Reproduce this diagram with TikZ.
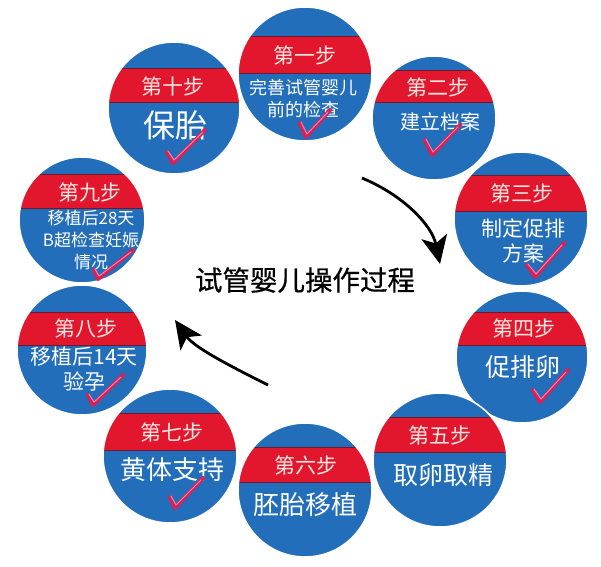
\documentclass[tikz,border=0pt]{standalone}
\usepackage{fontspec}
\newfontfamily\cjk{Noto Sans CJK SC}
\newfontfamily\cjkm[FakeBold=0.6]{Noto Sans CJK SC}
\usetikzlibrary{arrows.meta}
\definecolor{cblue}{RGB}{34,110,186}
\definecolor{cred}{RGB}{226,22,44}
\definecolor{cpink}{RGB}{255,232,226}
\definecolor{cline}{RGB}{110,25,50}
\definecolor{cchk}{RGB}{214,34,86}
\definecolor{cchkl}{RGB}{240,130,180}
\newcommand\stepdisc[6]{%
  \fill[cblue] (#2,#3) circle[radius=#4];
  \begin{scope}
    \clip (#2,#3) circle[radius=#4];
    \fill[cred] (#2-#4,#5) rectangle (#2+#4,#6);
    \draw[bandline] (#2-#4,#5) -- (#2+#4,#5);
    \draw[bandline] (#2-#4,#6) -- (#2+#4,#6);
  \end{scope}
  \draw[white, line width=1.6pt] (#2,#3) circle[radius=#4];
  \coordinate (#1) at (#2,#3);
}
\newcommand\checkmk[6]{%
  \draw[chk] (#1,#2) -- (#3,#4) -- (#5,#6);
  \draw[chkhi] (#1+1,#2-1) -- (#3+1,#4-3) -- (#5-2,#6+2);
}
\tikzset{
  bandline/.style={draw=cline, line width=0.8pt},
  bandtxt/.style={text=cpink, inner sep=0pt, font=\cjk\fontsize{21}{21}\selectfont},
  bodytxt/.style={text=white, inner sep=0pt, align=center},
  chk/.style={draw=cchk, line width=4pt, line cap=round, line join=round},
  chkhi/.style={draw=cchkl, line width=1pt, line cap=round, line join=round},
  flow/.style={line width=2.8pt, draw=black, -{Stealth[length=28pt,width=26pt,inset=7pt]}},
}
\begin{document}
\begin{tikzpicture}[x=1pt,y=-1pt]
\useasboundingbox[fill=white] (0,0) rectangle (601,566);
% discs
\stepdisc{c1}{305}{74}{67}{36}{73}
\stepdisc{c2}{434}{118}{62}{70}{102}
\stepdisc{c3}{521}{219}{67}{175}{211}
\stepdisc{c4}{522}{357}{66}{312}{345}
\stepdisc{c5}{440}{460}{67}{417}{452}
\stepdisc{c6}{305}{490}{67}{447}{482}
\stepdisc{c7}{170}{456}{67}{413}{450}
\stepdisc{c8}{82}{350}{65}{312}{345}
\stepdisc{c9}{82}{220}{63}{174}{208}
\stepdisc{c10}{174}{108}{66}{68}{102}
% band labels
\node[bandtxt] (s1) at (305,55) {第一步};
\node[bandtxt] (s2) at (438,87) {第二步};
\node[bandtxt] (s3) at (522,193) {第三步};
\node[bandtxt] (s4) at (524,328) {第四步};
\node[bandtxt] (s5) at (440,435) {第五步};
\node[bandtxt] (s6) at (306,465) {第六步};
\node[bandtxt] (s7) at (172,432) {第七步};
\node[bandtxt] (s8) at (86,328) {第八步};
\node[bandtxt] (s9) at (90,192) {第九步};
\node[bandtxt] (s10) at (173,86) {第十步};
% body texts
\node[bodytxt, font=\cjk\fontsize{18}{22}\selectfont] (t1) at (303,99) {完善试管婴儿\\前的检查};
\node[bodytxt, font=\cjk\fontsize{20}{24}\selectfont] (t2) at (440,122) {建立档案};
\node[bodytxt, font=\cjk\fontsize{21}{25}\selectfont] (t3) at (523,240.5) {制定促排\\方案};
\node[bodytxt, font=\cjk\fontsize{25}{28}\selectfont] (t4) at (523,367) {促排卵};
\node[bodytxt, font=\cjk\fontsize{25}{28}\selectfont] (t5) at (443,475) {取卵取精};
\node[bodytxt, font=\cjk\fontsize{26}{28}\selectfont] (t6) at (305,505) {胚胎移植};
\node[bodytxt, font=\cjk\fontsize{26}{28}\selectfont] (t7) at (172,470) {黄体支持};
\node[bodytxt, font=\cjk\fontsize{21}{25}\selectfont] (t8) at (84,369.5) {移植后14天\\验孕};
\node[bodytxt, font=\cjk\fontsize{17}{22}\selectfont] (t9) at (91,240) {移植后28天\\B超检查妊娠\\情况};
\node[bodytxt, font=\cjk\fontsize{32}{34}\selectfont] (t10) at (175,125) {保胎};
% check marks
\checkmk{300}{123}{306}{137}{330}{110}
\checkmk{425}{140}{432}{155}{460}{125}
\checkmk{527}{265}{535}{277}{564}{243}
\checkmk{533}{390}{540}{402}{568}{370}
\checkmk{170}{497}{175}{508}{203}{478}
\checkmk{88}{395}{93}{405}{123}{375}
\checkmk{94}{270}{98}{279}{133}{250}
\checkmk{167}{152}{173}{163}{205}{130}
% centre title
\node[inner sep=0pt, font=\cjkm\fontsize{27.5}{28}\selectfont] (title) at (305,280) {试管婴儿操作过程};
% arrows
\coordinate (a1s) at (362,178);
\coordinate (a1e) at (440,264);
\coordinate (a2s) at (268,385);
\coordinate (a2e) at (175,320);
\draw[flow] (a1s) .. controls (405,196) and (432,226) .. (a1e);
\draw[flow] (a2s) .. controls (226,364) and (194,347) .. (a2e);
\end{tikzpicture}
\end{document}
